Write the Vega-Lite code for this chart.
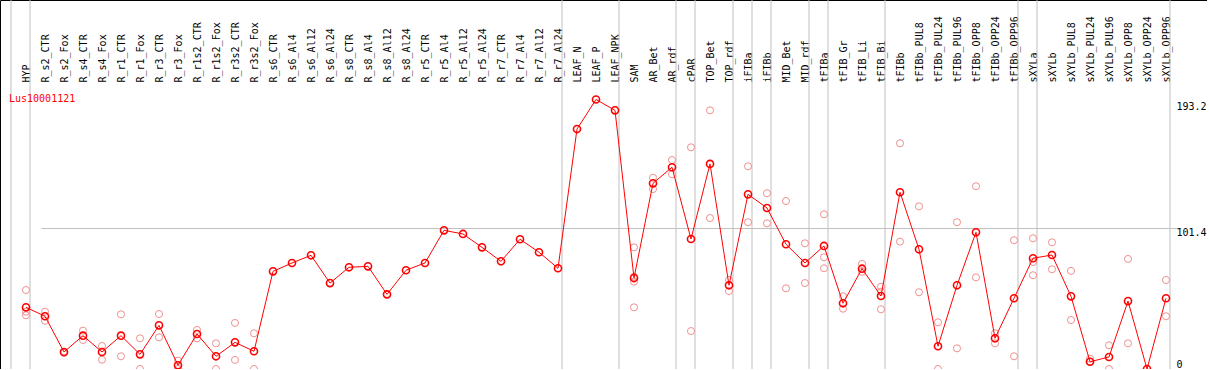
{
  "$schema": "https://vega.github.io/schema/vega-lite/v6.json",
  "width": 1207,
  "height": 369,
  "autosize": "none",
  "padding": 0,
  "background": "white",
  "config": {
    "view": {"stroke": "black", "strokeWidth": 1},
    "font": "DejaVu Sans Mono"
  },
  "title": {
    "text": "Lus10001121",
    "anchor": "start",
    "frame": "group",
    "orient": "top",
    "offset": -104,
    "baseline": "top",
    "dx": 9,
    "font": "DejaVu Sans Mono",
    "fontSize": 10,
    "fontWeight": "normal",
    "color": "#ff0000"
  },
  "datasets": {
    "main": [
      {"cat": "HYP", "value": 44.2}, {"cat": "R_s2_CTR", "value": 37.8}, {"cat": "R_s2_Fox", "value": 12.2},
      {"cat": "R_s4_CTR", "value": 23.9}, {"cat": "R_s4_Fox", "value": 12.2}, {"cat": "R_r1_CTR", "value": 23.9},
      {"cat": "R_r1_Fox", "value": 10.5}, {"cat": "R_r3_CTR", "value": 31.3}, {"cat": "R_r3_Fox", "value": 2.7},
      {"cat": "R_r1s2_CTR", "value": 25.1}, {"cat": "R_r1s2_Fox", "value": 9.1}, {"cat": "R_r3s2_CTR", "value": 19.1},
      {"cat": "R_r3s2_Fox", "value": 12.7}, {"cat": "R_s6_CTR", "value": 70.0}, {"cat": "R_s6_Al4", "value": 76.0},
      {"cat": "R_s6_Al12", "value": 81.5}, {"cat": "R_s6_Al24", "value": 61.6}, {"cat": "R_s8_CTR", "value": 72.9},
      {"cat": "R_s8_Al4", "value": 73.6}, {"cat": "R_s8_Al12", "value": 53.5}, {"cat": "R_s8_Al24", "value": 70.8},
      {"cat": "R_r5_CTR", "value": 76.0}, {"cat": "R_r5_Al4", "value": 99.4}, {"cat": "R_r5_Al12", "value": 96.8},
      {"cat": "R_r5_Al24", "value": 87.2}, {"cat": "R_r7_CTR", "value": 77.2}, {"cat": "R_r7_Al4", "value": 93.0},
      {"cat": "R_r7_Al12", "value": 83.7}, {"cat": "R_r7_Al24", "value": 72.2}, {"cat": "LEAF_N", "value": 172.0},
      {"cat": "LEAF_P", "value": 193.2}, {"cat": "LEAF_NPK", "value": 185.4}, {"cat": "SAM", "value": 65.2},
      {"cat": "AR_Bet", "value": 133.1}, {"cat": "AR_rdf", "value": 144.6}, {"cat": "cPAR", "value": 93.2},
      {"cat": "TOP_Bet", "value": 147.0}, {"cat": "TOP_rdf", "value": 60.0}, {"cat": "iFIBa", "value": 125.2},
      {"cat": "iFIBb", "value": 115.4}, {"cat": "MID_Bet", "value": 89.4}, {"cat": "MID_rdf", "value": 76.0},
      {"cat": "tFIBa", "value": 88.2}, {"cat": "tFIB_Gr", "value": 47.1}, {"cat": "tFIB_Li", "value": 71.9},
      {"cat": "tFIB_Bi", "value": 52.3}, {"cat": "tFIBb", "value": 126.7}, {"cat": "tFIBb_PUL8", "value": 85.8},
      {"cat": "tFIBb_PUL24", "value": 16.3}, {"cat": "tFIBb_PUL96", "value": 60.0}, {"cat": "tFIBb_OPP8", "value": 98.0},
      {"cat": "tFIBb_OPP24", "value": 22.0}, {"cat": "tFIBb_OPP96", "value": 50.7}, {"cat": "sXYLa", "value": 79.4},
      {"cat": "sXYLb", "value": 81.7}, {"cat": "sXYLb_PUL8", "value": 52.1}, {"cat": "sXYLb_PUL24", "value": 5.2},
      {"cat": "sXYLb_PUL96", "value": 8.6}, {"cat": "sXYLb_OPP8", "value": 48.7}, {"cat": "sXYLb_OPP24", "value": 0},
      {"cat": "sXYLb_OPP96", "value": 50.7}
    ],
    "reps": [
      {"cat": "HYP", "value": 56.6}, {"cat": "HYP", "value": 41.1}, {"cat": "HYP", "value": 38.5},
      {"cat": "R_s2_CTR", "value": 41.1}, {"cat": "R_s2_CTR", "value": 34.6},
      {"cat": "R_s2_Fox", "value": 12.2}, {"cat": "R_s2_Fox", "value": 11.5},
      {"cat": "R_s4_CTR", "value": 27.5}, {"cat": "R_s4_CTR", "value": 20.8},
      {"cat": "R_s4_Fox", "value": 16.5}, {"cat": "R_s4_Fox", "value": 6.7},
      {"cat": "R_r1_CTR", "value": 39.2}, {"cat": "R_r1_CTR", "value": 9.1},
      {"cat": "R_r1_Fox", "value": 22.0}, {"cat": "R_r1_Fox", "value": 0},
      {"cat": "R_r3_CTR", "value": 39.4}, {"cat": "R_r3_CTR", "value": 22.7},
      {"cat": "R_r3_Fox", "value": 6.0}, {"cat": "R_r3_Fox", "value": 0},
      {"cat": "R_r1s2_CTR", "value": 28.0}, {"cat": "R_r1s2_CTR", "value": 22.0},
      {"cat": "R_r1s2_Fox", "value": 18.4}, {"cat": "R_r1s2_Fox", "value": 0},
      {"cat": "R_r3s2_CTR", "value": 33.0}, {"cat": "R_r3s2_CTR", "value": 6.5},
      {"cat": "R_r3s2_Fox", "value": 25.6}, {"cat": "R_r3s2_Fox", "value": 0},
      {"cat": "SAM", "value": 87.2}, {"cat": "SAM", "value": 66.2}, {"cat": "SAM", "value": 62.6}, {"cat": "SAM", "value": 44.2},
      {"cat": "AR_Bet", "value": 137.1}, {"cat": "AR_Bet", "value": 129.0},
      {"cat": "AR_rdf", "value": 149.8}, {"cat": "AR_rdf", "value": 139.6},
      {"cat": "cPAR", "value": 158.9}, {"cat": "cPAR", "value": 27.2},
      {"cat": "TOP_Bet", "value": 185.4}, {"cat": "TOP_Bet", "value": 108.2},
      {"cat": "TOP_rdf", "value": 63.8}, {"cat": "TOP_rdf", "value": 55.9},
      {"cat": "iFIBa", "value": 145.3}, {"cat": "iFIBa", "value": 105.2},
      {"cat": "iFIBb", "value": 126.0}, {"cat": "iFIBb", "value": 104.4},
      {"cat": "MID_Bet", "value": 120.4}, {"cat": "MID_Bet", "value": 57.8},
      {"cat": "MID_rdf", "value": 90.1}, {"cat": "MID_rdf", "value": 61.6},
      {"cat": "tFIBa", "value": 110.9}, {"cat": "tFIBa", "value": 80.1}, {"cat": "tFIBa", "value": 72.2},
      {"cat": "tFIB_Gr", "value": 52.1}, {"cat": "tFIB_Gr", "value": 43.2},
      {"cat": "tFIB_Li", "value": 75.3}, {"cat": "tFIB_Li", "value": 69.7},
      {"cat": "tFIB_Bi", "value": 59.0}, {"cat": "tFIB_Bi", "value": 55.4}, {"cat": "tFIB_Bi", "value": 42.8},
      {"cat": "tFIBb", "value": 161.8}, {"cat": "tFIBb", "value": 91.3},
      {"cat": "tFIBb_PUL8", "value": 116.6}, {"cat": "tFIBb_PUL8", "value": 55.0},
      {"cat": "tFIBb_PUL24", "value": 33.5}, {"cat": "tFIBb_PUL24", "value": 0},
      {"cat": "tFIBb_PUL96", "value": 105.2}, {"cat": "tFIBb_PUL96", "value": 14.8},
      {"cat": "tFIBb_OPP8", "value": 131.0}, {"cat": "tFIBb_OPP8", "value": 65.7},
      {"cat": "tFIBb_OPP24", "value": 25.6}, {"cat": "tFIBb_OPP24", "value": 18.4},
      {"cat": "tFIBb_OPP96", "value": 92.3}, {"cat": "tFIBb_OPP96", "value": 9.1},
      {"cat": "sXYLa", "value": 93.7}, {"cat": "sXYLa", "value": 76.7}, {"cat": "sXYLa", "value": 67.2},
      {"cat": "sXYLb", "value": 90.8}, {"cat": "sXYLb", "value": 71.5},
      {"cat": "sXYLb_PUL8", "value": 70.3}, {"cat": "sXYLb_PUL8", "value": 35.1},
      {"cat": "sXYLb_PUL24", "value": 7.4}, {"cat": "sXYLb_PUL24", "value": 5.2},
      {"cat": "sXYLb_PUL96", "value": 17.0}, {"cat": "sXYLb_PUL96", "value": 0},
      {"cat": "sXYLb_OPP8", "value": 78.9}, {"cat": "sXYLb_OPP8", "value": 18.4},
      {"cat": "sXYLb_OPP96", "value": 63.8}, {"cat": "sXYLb_OPP96", "value": 37.8}
    ],
    "seps": [
      {"cat": "HYP", "side": "before"},
      {"cat": "HYP", "side": "after"}, {"cat": "R_r7_Al24", "side": "after"}, {"cat": "LEAF_NPK", "side": "after"},
      {"cat": "AR_rdf", "side": "after"}, {"cat": "cPAR", "side": "after"}, {"cat": "TOP_rdf", "side": "after"},
      {"cat": "iFIBa", "side": "after"}, {"cat": "iFIBb", "side": "after"}, {"cat": "MID_rdf", "side": "after"},
      {"cat": "tFIBa", "side": "after"}, {"cat": "tFIB_Bi", "side": "after"}, {"cat": "tFIBb_OPP96", "side": "after"},
      {"cat": "sXYLa", "side": "after"}, {"cat": "sXYLb_OPP96", "side": "after"}
    ]
  },
  "layer": [
    {
      "data": {"name": "seps"},
      "transform": [{"filter": "datum.side == 'after'"}],
      "mark": {"type": "rule", "color": "#c0c0c0", "strokeWidth": 1, "xOffset": 4},
      "encoding": {
        "x": {
          "field": "cat",
          "type": "ordinal",
          "scale": {
            "type": "point",
            "padding": 0,
            "range": [26, 1166],
            "domain": ["HYP", "R_s2_CTR", "R_s2_Fox", "R_s4_CTR", "R_s4_Fox", "R_r1_CTR", "R_r1_Fox", "R_r3_CTR", "R_r3_Fox", "R_r1s2_CTR", "R_r1s2_Fox", "R_r3s2_CTR", "R_r3s2_Fox", "R_s6_CTR", "R_s6_Al4", "R_s6_Al12", "R_s6_Al24", "R_s8_CTR", "R_s8_Al4", "R_s8_Al12", "R_s8_Al24", "R_r5_CTR", "R_r5_Al4", "R_r5_Al12", "R_r5_Al24", "R_r7_CTR", "R_r7_Al4", "R_r7_Al12", "R_r7_Al24", "LEAF_N", "LEAF_P", "LEAF_NPK", "SAM", "AR_Bet", "AR_rdf", "cPAR", "TOP_Bet", "TOP_rdf", "iFIBa", "iFIBb", "MID_Bet", "MID_rdf", "tFIBa", "tFIB_Gr", "tFIB_Li", "tFIB_Bi", "tFIBb", "tFIBb_PUL8", "tFIBb_PUL24", "tFIBb_PUL96", "tFIBb_OPP8", "tFIBb_OPP24", "tFIBb_OPP96", "sXYLa", "sXYLb", "sXYLb_PUL8", "sXYLb_PUL24", "sXYLb_PUL96", "sXYLb_OPP8", "sXYLb_OPP24", "sXYLb_OPP96"]
          },
          "axis": {
            "orient": "top",
            "offset": -85,
            "title": null,
            "labelAngle": -90,
            "labelAlign": "left",
            "labelBaseline": "middle",
            "labelPadding": 3,
            "labelFont": "DejaVu Sans Mono",
            "labelFontSize": 10,
            "labelColor": "black",
            "labelOverlap": false,
            "labelBound": false,
            "labelFlush": false,
            "ticks": false,
            "domain": false,
            "grid": false
          }
        }
      }
    },
    {
      "data": {"name": "seps"},
      "transform": [{"filter": "datum.side == 'before'"}],
      "mark": {"type": "rule", "color": "#c0c0c0", "strokeWidth": 1, "xOffset": -15},
      "encoding": {"x": {"field": "cat", "type": "ordinal"}}
    },
    {
      "mark": {"type": "rule", "color": "black", "strokeWidth": 1},
      "encoding": {"y": {"datum": 203.4}}
    },
    {
      "data": {"name": "reps"},
      "mark": {"type": "point", "shape": "circle", "filled": false, "color": "#f09090", "strokeWidth": 1, "size": 50, "opacity": 1},
      "encoding": {
        "x": {"field": "cat", "type": "ordinal"},
        "y": {
          "field": "value",
          "type": "quantitative",
          "scale": {"domain": [0, 264.5], "nice": false, "zero": false},
          "axis": {
            "orient": "right",
            "offset": -31,
            "title": null,
            "values": [0, 101.4, 193.2],
            "labelExpr": "datum.value == 0 ? '0' : format(datum.value, '.1f')",
            "ticks": false,
            "domain": false,
            "labelPadding": 0,
            "labelAlign": "left",
            "labelFont": "DejaVu Sans Mono",
            "labelFontSize": 10,
            "labelColor": "black",
            "labelOverlap": false,
            "labelBound": false,
            "labelFlush": false,
            "labelBaseline": {"condition": {"test": "datum.value == 0", "value": "bottom"}, "value": "top"},
            "labelOffset": {"condition": {"test": "datum.value == 193.2", "value": 2}, "value": 0},
            "grid": true,
            "gridColor": "#c0c0c0",
            "gridWidth": 1,
            "gridOpacity": {"condition": {"test": "datum.value == 101.4", "value": 1}, "value": 0}
          }
        }
      }
    },
    {
      "data": {"name": "main"},
      "mark": {"type": "line", "color": "#ff0000", "strokeWidth": 1},
      "encoding": {
        "x": {"field": "cat", "type": "ordinal"},
        "y": {"field": "value", "type": "quantitative"},
        "order": {"value": null}
      }
    },
    {
      "data": {"name": "main"},
      "mark": {"type": "point", "shape": "circle", "filled": false, "color": "#ff0000", "strokeWidth": 1.6, "size": 50, "opacity": 1},
      "encoding": {
        "x": {"field": "cat", "type": "ordinal"},
        "y": {"field": "value", "type": "quantitative"}
      }
    }
  ]
}
